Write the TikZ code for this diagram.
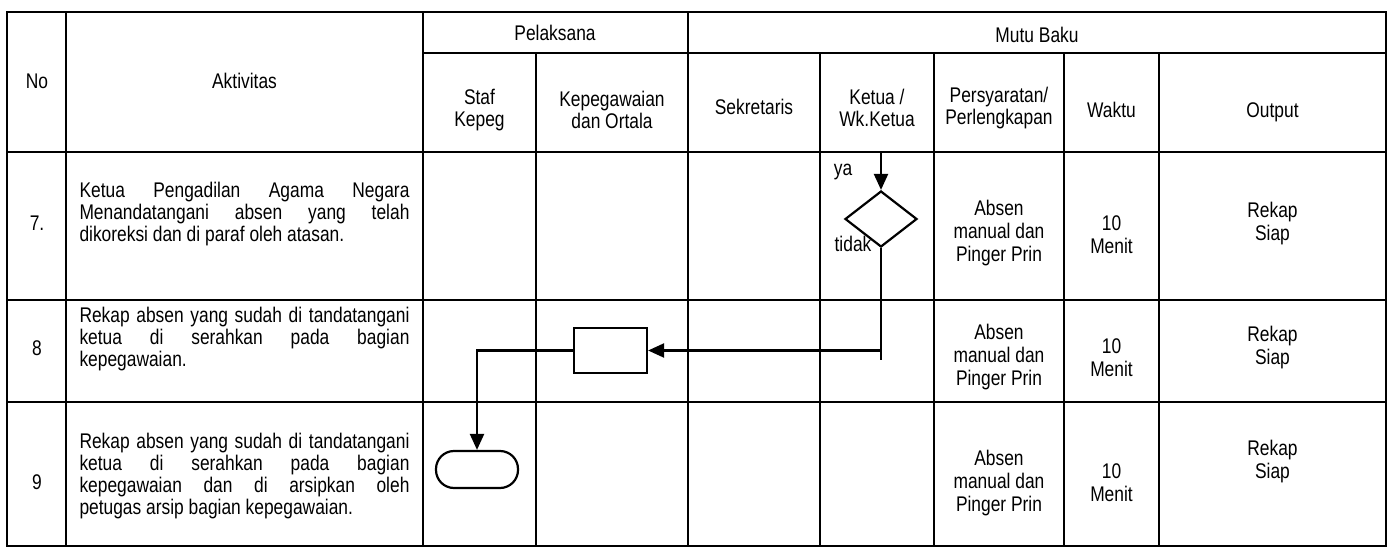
\documentclass[tikz,border=0pt]{standalone}
\usepackage{fontspec}
\setmainfont{Liberation Sans}[FakeStretch=0.82]
\usetikzlibrary{shapes.geometric}
\usetikzlibrary{arrows.meta, positioning}
\tolerance=10000
\hbadness=10000

\begin{document}
\begin{tikzpicture}[x=0.5pt,y=-0.5pt,
    every node/.style={font=\fontsize{10.6}{11}\selectfont, inner sep=0pt},
    lbl/.style={align=center},
    cell/.style={align=center, font=\fontsize{10.6}{11.5}\selectfont},
    aktv/.style={text width=165pt, align=justify},
    rule/.style={line width=1pt},
    flow/.style={line width=1.1pt, -{Triangle[length=8pt,width=7pt]}},
    decision/.style={diamond, draw, line width=1.1pt, aspect=1.3,
        minimum width=36pt, minimum height=28pt},
    process/.style={rectangle, draw, line width=1.1pt,
        minimum width=36.5pt, minimum height=22.5pt},
    terminal/.style={rectangle, draw, line width=1.1pt, rounded corners=9pt,
        minimum width=41pt, minimum height=18.5pt}]

    \useasboundingbox (0,0) rectangle (1397,556);

    % table frame and rules
    \draw[line width=1.2pt] (7,12) rectangle (1386,546);
    \draw[rule] (423,53) -- (1386,53);
    \foreach \y in {152,300,402}
        \draw[rule] (7,\y) -- (1386,\y);
    \foreach \x in {66,423,688}
        \draw[rule] (\x,12) -- (\x,546);
    \foreach \x in {536,820,934,1064,1159}
        \draw[rule] (\x,53) -- (\x,546);

    % header
    \node (no) at (37,81) {No};
    \node (aktivitas) at (244.5,81) {Aktivitas};
    \node (pelaksana) at (555,33) {Pelaksana};
    \node (mutu) at (1037,35) {Mutu Baku};
    \node[lbl] (staf) at (479.5,110) {Staf\\Kepeg};
    \node[lbl] (kepeg) at (612,110) {Kepegawaian\\dan Ortala};
    \node (sekr) at (754,107) {Sekretaris};
    \node[lbl] (ketua) at (877,108) {Ketua /\\Wk.Ketua};
    \node[lbl] (syarat) at (999,108) {Persyaratan/\\Perlengkapan};
    \node (waktu) at (1111.5,110) {Waktu};
    \node (output) at (1272.5,112) {Output};

    % rows
    \node (n7) at (37,223) {7.};
    \node (n8) at (37,348) {8};
    \node (n9) at (37,482) {9};
    \node[aktv] (a7) at (244.5,214) {Ketua Pengadilan Agama Negara\linebreak
        Menandatangani absen yang telah\linebreak
        dikoreksi dan di paraf oleh atasan.};
    \node[aktv] (a8) at (244.5,339) {Rekap absen yang sudah di tandatangani\linebreak
        ketua di serahkan pada bagian\linebreak
        kepegawaian.};
    \node[aktv] (a9) at (244.5,476) {Rekap absen yang sudah di tandatangani\linebreak
        ketua di serahkan pada bagian\linebreak
        kepegawaian dan di arsipkan oleh\linebreak
        petugas arsip bagian kepegawaian.};

    \foreach \r/\ys/\yw/\yo in {7/233/235/224, 8/357/358/348, 9/483/483/462} {
        \node[cell] (syarat\r) at (999,\ys) {Absen\\manual dan\\Pinger Prin};
        \node[cell] (waktu\r) at (1111.5,\yw) {10\\Menit};
        \node[cell] (output\r) at (1272.5,\yo) {Rekap\\Siap};
    }

    % flow
    \coordinate (ya0) at (881,152);
    \node[decision] (cek) at (881,219) {};
    \node (ya) at (843,172) {ya};
    \node (tidak) at (853,244) {tidak};
    \node[process] (rekap) at (610.5,350.5) {};
    \node[terminal] (arsip) at (477,469.5) {};
    \coordinate (tidak0) at (881,360);

    \draw[flow] (ya0) -- (cek.north);
    \draw[line width=1.1pt] (cek.south) -- (tidak0);
    \draw[flow] (cek.south |- rekap.east) -- (rekap.east);
    \draw[flow] (rekap.west) -| (arsip.north);
\end{tikzpicture}
\end{document}
